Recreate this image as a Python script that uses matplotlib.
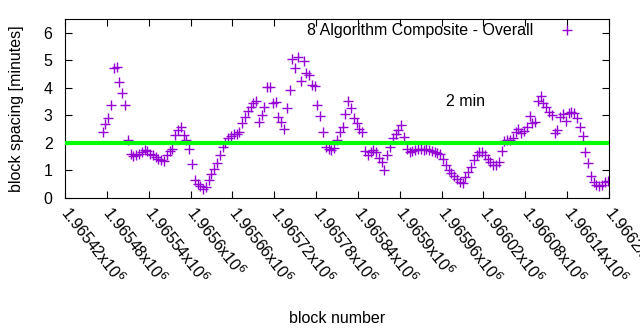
import numpy as np
import matplotlib
matplotlib.use("Agg")
import matplotlib.pyplot as plt
from matplotlib.ticker import FixedLocator, FuncFormatter

plt.rcParams['font.family'] = ['Liberation Sans', 'DejaVu Sans']

# block numbers (every 4th block) and the composite block spacing in minutes
blocks = np.arange(1965474, 1966202, 4)
spacing = [
    2.37, 2.66, 2.90, 3.37, 4.72, 4.75, 4.22, 3.82, 3.35, 2.10,
    1.58, 1.50, 1.55, 1.60, 1.66, 1.72, 1.70, 1.60, 1.54, 1.47,
    1.42, 1.36, 1.33, 1.55, 1.70, 1.78, 2.27, 2.45, 2.55, 2.27,
    2.08, 1.78, 1.23, 0.62, 0.48, 0.41, 0.32, 0.38, 0.62, 0.85,
    1.05, 1.25, 1.55, 1.83, 1.98, 2.15, 2.25, 2.30, 2.33, 2.40,
    2.70, 2.94, 3.15, 3.30, 3.45, 3.50, 2.75, 3.00, 3.30, 4.04,
    4.02, 3.43, 3.49, 2.94, 2.76, 2.50, 3.25, 3.90, 5.05, 4.71,
    5.10, 4.25, 4.96, 4.53, 4.45, 4.10, 4.05, 3.37, 2.95, 2.40,
    1.83, 1.78, 1.73, 1.80, 2.10, 2.38, 2.55, 3.05, 3.50, 3.25,
    2.90, 2.70, 2.50, 2.40, 1.70, 1.56, 1.65, 1.72, 1.65, 1.45,
    1.30, 1.00, 1.55, 1.85, 2.15, 2.30, 2.45, 2.65, 2.20, 1.78,
    1.66, 1.70, 1.72, 1.75, 1.78, 1.72, 1.75, 1.72, 1.68, 1.65,
    1.62, 1.58, 1.42, 1.20, 1.00, 0.88, 0.78, 0.68, 0.57, 0.52,
    0.74, 0.92, 1.10, 1.35, 1.55, 1.66, 1.66, 1.55, 1.40, 1.28,
    1.20, 1.18, 1.30, 1.70, 2.05, 2.08, 2.10, 2.17, 2.40, 2.50,
    2.35, 2.42, 2.55, 2.96, 2.70, 2.76, 3.50, 3.70, 3.43, 3.28,
    3.12, 3.00, 2.35, 2.45, 2.94, 3.05, 2.80, 3.07, 3.12, 3.08,
    2.90, 2.55, 2.25, 1.66, 1.25, 0.80, 0.58, 0.46, 0.41, 0.44,
    0.55, 0.60,
]
target = 2.0
xticks = np.arange(1965420, 1966201, 60)

fig = plt.figure(figsize=(6.4, 3.3), dpi=100)
ax = fig.add_axes([0.1016, 0.4015, 0.85, 0.541])

ax.plot(blocks, spacing, linestyle='none', marker='+', ms=6.5, mew=1.0,
        color='#9400D3', label='8 Algorithm Composite - Overall', zorder=2)
ax.axhline(target, color='#00FF00', lw=3, zorder=3)
ax.text(1965994, 3.5, '2 min', ha='center', va='center', fontsize=11.5)

ax.set_xlim(1965420, 1966200)
ax.set_ylim(0, 6.5)
ax.xaxis.set_major_locator(FixedLocator(xticks))
ax.xaxis.set_major_formatter(FuncFormatter(lambda v, p: '%gx10$^{6}$' % (v / 1e6)))
ax.set_yticks(range(0, 7))

ax.tick_params(direction='in', length=5, width=0.8, top=True, right=True,
               labelsize=11.5)
ax.tick_params(axis='x', pad=8)
ax.tick_params(axis='y', pad=9)
for lab in ax.get_xticklabels():
    lab.set_rotation(-52)
    lab.set_ha('left')
    lab.set_va('center')
    lab.set_rotation_mode('anchor')
for s in ax.spines.values():
    s.set_linewidth(0.8)

ax.set_xlabel('block number', fontsize=11.5, labelpad=17)
ax.set_ylabel('block spacing [minutes]', fontsize=11.5, labelpad=14)

ax.legend(loc='upper right', bbox_to_anchor=(0.9375, 0.975), markerfirst=False,
          frameon=False, fontsize=11.5, handlelength=1.0, handletextpad=1.6,
          borderpad=0, borderaxespad=0)

fig.savefig('out.png', dpi=100)
